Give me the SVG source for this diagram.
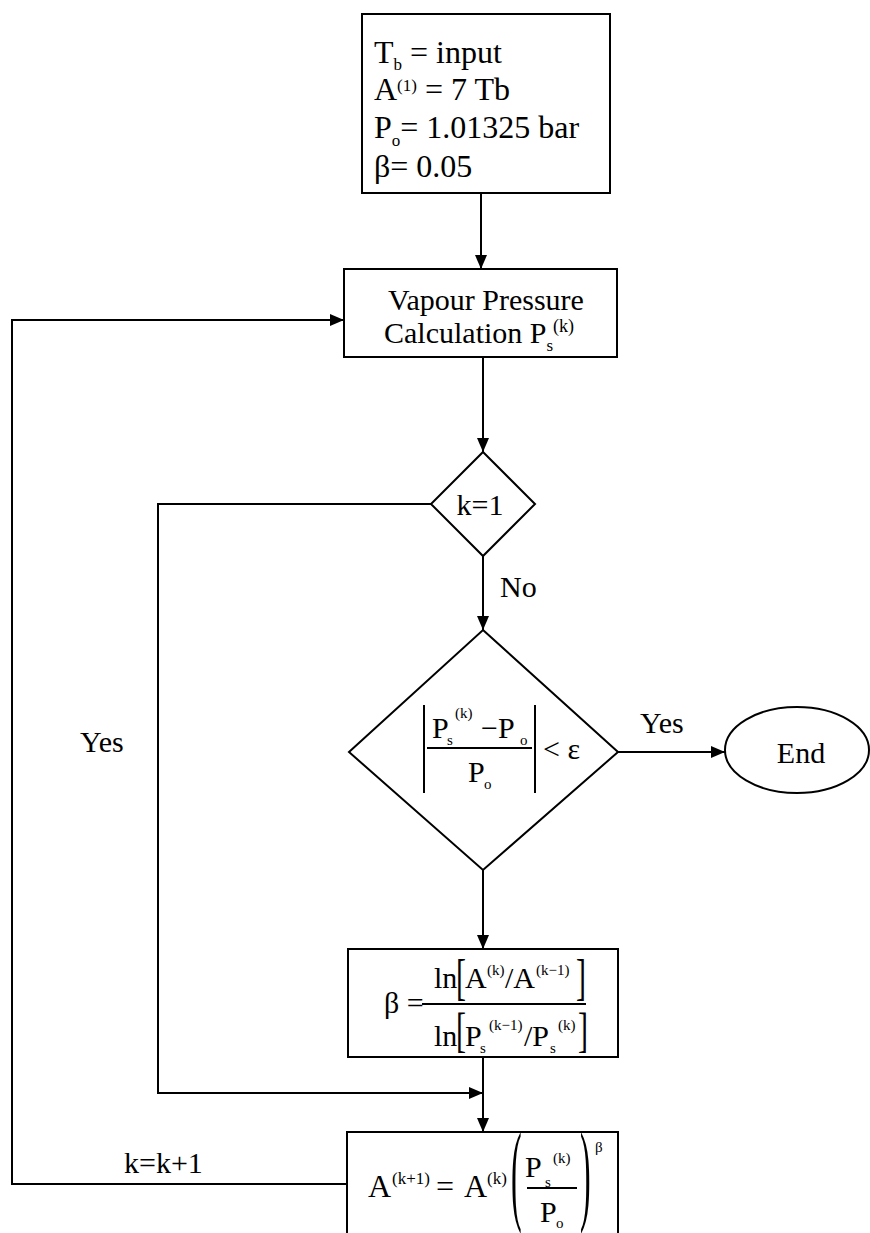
<svg xmlns="http://www.w3.org/2000/svg" width="870" height="1233" viewBox="0 0 870 1233">
<style>
text{font-family:"Liberation Serif","Times New Roman",serif;fill:#000;font-size:30px}
.big{font-size:32px}
.sm{font-size:17px}
.xs{font-size:15px}
.shape{fill:#fff;stroke:#000;stroke-width:2}
.conn{fill:none;stroke:#000;stroke-width:2}
</style>
<defs>
<marker id="ah" viewBox="0 0 14 12" refX="14" refY="6" markerWidth="14" markerHeight="12" markerUnits="userSpaceOnUse" orient="auto">
<path d="M0,0 L14,6 L0,12 z" fill="#000"/>
</marker>
</defs>
<rect width="870" height="1233" fill="#fff"/>

<g id="connectors">
<line class="conn" x1="481" y1="193" x2="481" y2="269" marker-end="url(#ah)"/>
<line class="conn" x1="483" y1="357" x2="483" y2="452" marker-end="url(#ah)"/>
<line class="conn" x1="483" y1="556" x2="483" y2="630" marker-end="url(#ah)"/>
<polyline class="conn" points="431,504 158,504 158,1093 483,1093" marker-end="url(#ah)"/>
<line class="conn" x1="618" y1="752" x2="725" y2="752" marker-end="url(#ah)"/>
<line class="conn" x1="483" y1="870" x2="483" y2="949" marker-end="url(#ah)"/>
<line class="conn" x1="483" y1="1057" x2="483" y2="1132" marker-end="url(#ah)"/>
<polyline class="conn" points="347,1184 12,1184 12,320 344,320" marker-end="url(#ah)"/>
<text x="500" y="597">No</text>
<text x="640" y="733">Yes</text>
<text x="80" y="752">Yes</text>
<text x="124" y="1173">k=k+1</text>
</g>

<g id="init">
<rect class="shape" x="362" y="14" width="248" height="179"/>
<text class="big" x="374" y="63">T<tspan class="sm" dy="7">b</tspan><tspan dy="-7"> = input</tspan></text>
<text class="big" x="374" y="100">A<tspan class="sm" dy="-9">(1)</tspan><tspan dy="9"> = 7 Tb</tspan></text>
<text class="big" x="374" y="138">P<tspan class="sm" dy="8">o</tspan><tspan dy="-8">= 1.01325 bar</tspan></text>
<text class="big" x="374" y="177">β= 0.05</text>
</g>

<g id="vapour">
<rect class="shape" x="344" y="269" width="273" height="88"/>
<text x="486" y="310" text-anchor="middle" font-size="32">Vapour Pressure</text>
<text x="384" y="343" font-size="32">Calculation P<tspan class="sm" dy="8">s</tspan><tspan font-size="18" dy="-19">(k)</tspan></text>
</g>

<g id="check-k">
<polygon class="shape" points="483,452 535,504 483,556 431,504"/>
<text x="480" y="515" text-anchor="middle">k=1</text>
</g>

<g id="converge">
<polygon class="shape" points="483,630 618,752 483,870 349,752"/>
<line class="conn" x1="424" y1="705" x2="424" y2="793"/>
<line class="conn" x1="535" y1="705" x2="535" y2="793"/>
<line class="conn" x1="427" y1="748" x2="532" y2="748" stroke-width="1.5"/>
<text x="432" y="738">P</text>
<text class="xs" x="447" y="745">s</text>
<text class="xs" x="455" y="718">(k)</text>
<text x="481" y="738">−P</text>
<text class="xs" x="520" y="745">o</text>
<text x="468" y="782">P</text>
<text class="xs" x="484" y="789">o</text>
<text x="543" y="759">&lt; ε</text>
</g>

<g id="end">
<ellipse class="shape" cx="797" cy="750" rx="72" ry="43"/>
<text x="801" y="763" text-anchor="middle" font-size="36">End</text>
</g>

<g id="beta">
<rect class="shape" x="348" y="949" width="270" height="108"/>
<text x="384" y="1013">β =</text>
<line class="conn" x1="422" y1="1004" x2="586" y2="1004" stroke-width="1.5"/>
<text x="434" y="988">ln</text>
<text transform="translate(456,994) scale(1,1.7)">[</text>
<text x="465" y="988">A</text>
<text class="xs" x="487" y="975">(k)</text>
<text x="505" y="988">/A</text>
<text class="xs" x="536" y="975">(k−1)</text>
<text transform="translate(576,994) scale(1,1.7)">]</text>
<text x="434" y="1046">ln</text>
<text transform="translate(456,1046) scale(1,1.6)">[</text>
<text x="465" y="1046">P</text>
<text class="xs" x="480" y="1053">s</text>
<text class="xs" x="489" y="1030">(k−1)</text>
<text x="524" y="1046">/P</text>
<text class="xs" x="550" y="1053">s</text>
<text class="xs" x="558" y="1030">(k)</text>
<text transform="translate(578,1046) scale(1,1.6)">]</text>
</g>

<g id="update">
<rect class="shape" x="347" y="1132" width="271" height="110"/>
<text class="big" x="368" y="1197">A</text>
<text class="sm" x="392" y="1184">(k+1)</text>
<text class="big" x="436" y="1197">=</text>
<text class="big" x="464" y="1197">A</text>
<text class="sm" x="487" y="1184">(k)</text>
<text class="big" transform="translate(511,1210) scale(1,3.5)">(</text>
<text x="525" y="1177">P</text>
<text class="xs" x="545" y="1187">s</text>
<text class="xs" x="553" y="1163">(k)</text>
<line class="conn" x1="527" y1="1188" x2="577" y2="1188" stroke-width="1.5"/>
<text x="540" y="1222">P</text>
<text class="xs" x="556" y="1228">o</text>
<text class="big" transform="translate(580,1210) scale(1,3.5)">)</text>
<text class="xs" x="595" y="1152">β</text>
</g>
</svg>
